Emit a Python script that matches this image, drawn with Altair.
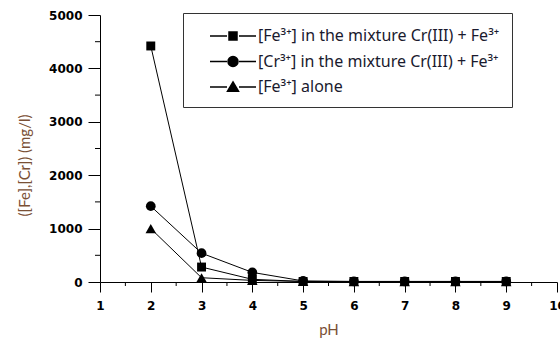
import altair as alt
import pandas as pd

ph = [2, 3, 4, 5, 6, 7, 8, 9]
fe_mix = [4420, 280, 50, 10, 10, 10, 10, 10]
cr_mix = [1420, 540, 180, 20, 10, 10, 10, 10]
fe_alone = [1000, 80, 30, 10, 5, 5, 5, 5]

names = [
    "[Fe³⁺] in the mixture Cr(III) + Fe³⁺",
    "[Cr³⁺] in the mixture Cr(III) + Fe³⁺",
    "[Fe³⁺]  alone",
]
series_values = [fe_mix, cr_mix, fe_alone]

x_major = [1, 2, 3, 4, 5, 6, 7, 8, 9, 10]
x_minor = [1.5, 2.5, 3.5, 4.5, 5.5, 6.5, 7.5, 8.5, 9.5]
y_major = [0, 1000, 2000, 3000, 4000, 5000]
y_minor = [500, 1500, 2500, 3500, 4500]

rows = []
for name, vals in zip(names, series_values):
    for p, v in zip(ph, vals):
        rows.append({"pH": p, "val": v, "series": name})
df = pd.DataFrame(rows)
df_xminor = pd.DataFrame({"pH": x_minor})
df_yminor = pd.DataFrame({"val": y_minor})

W, H = 457, 267
title_color = "#7a5035"
label_font = "DejaVu Sans"

xscale = alt.Scale(domain=[1, 10], nice=False, zero=False)
yscale = alt.Scale(domain=[0, 5000], nice=False)

x_axis = alt.Axis(
    orient="bottom", values=x_major, tickSize=10,
    tickColor="black", domainColor="black",
    labelFont=label_font, labelFontWeight="bold", labelFontSize=12, labelColor="black",
    labelPadding=8, labelFlush=False, labelOverlap=False, grid=False,
    title="pH", titleFont="Lato", titleFontSize=15, titleFontWeight="normal",
    titleColor=title_color, titleY=40, titleBaseline="top",
)
y_axis = alt.Axis(
    orient="left", values=y_major, format="d", tickSize=12,
    tickColor="black", domainColor="black",
    labelFont=label_font, labelFontWeight="bold", labelFontSize=12, labelColor="black",
    labelPadding=6, labelFlush=False, labelOverlap=False, grid=False,
    title="([Fe],[Cr]) (mg/l)", titleFont="Lato", titleFontSize=15, titleFontWeight="normal",
    titleColor=title_color, titleX=-68, titleY=150, titleAngle=-90,
)

X = alt.X("pH:Q", scale=xscale, axis=x_axis)
Y = alt.Y("val:Q", scale=yscale, axis=y_axis)

base = alt.Chart(df)

lines = base.mark_line(color="black", strokeWidth=1).encode(
    x=X, y=Y, detail="series:N",
)

xminor = alt.Chart(df_xminor).mark_rule(color="black", strokeWidth=1).encode(
    x=X, y=alt.value(H), y2=alt.value(H + 4),
)
yminor = alt.Chart(df_yminor).mark_rule(color="black", strokeWidth=1).encode(
    y=Y, x=alt.value(0), x2=alt.value(-5),
)

points = base.mark_point(filled=True, color="black", opacity=1).encode(
    x=X, y=Y,
    shape=alt.Shape("series:N", scale=alt.Scale(domain=names, range=["square", "circle", "triangle-up"]), legend=None),
    size=alt.Size("series:N", scale=alt.Scale(domain=names, range=[80, 110, 110]), legend=None),
)

legend_paths = [
    "M-2.3,0H-0.6M0.6,0H2.3M-0.4,-0.4H0.4V0.4H-0.4Z",
    "M-2.3,0H-0.6M0.6,0H2.3M-0.5,0A0.5,0.5,0,1,1,0.5,0A0.5,0.5,0,1,1,-0.5,0Z",
    "M-2.3,0H-0.6M0.6,0H2.3M0,-0.5L0.55,0.42L-0.55,0.42Z",
]

pad = "\u00a0" * 20

legend_layer = base.transform_filter("datum.pH > 100").mark_point(
    filled=True, color="black", strokeWidth=1, stroke="black", opacity=1
).encode(
    x=X, y=Y,
    shape=alt.Shape(
        "series:N",
        scale=alt.Scale(domain=names, range=legend_paths),
        legend=alt.Legend(
            title=None, orient="none", legendX=83, legendY=-2,
            strokeColor="#333333", fillColor="white", padding=12,
            symbolSize=400,
            rowPadding=6.5,
            symbolOffset=27, labelOffset=14,
            labelExpr="datum.label + '" + pad + "'",
            labelFont="Noto Sans", labelFontSize=16, labelColor="#1a1a2e",
            labelLimit=500,
        ),
    ),
)

chart = (
    alt.layer(lines, xminor, yminor, points, legend_layer)
    .resolve_scale(shape="independent", size="independent")
    .properties(
        width=W, height=H,
        autosize=alt.AutoSizeParams(type="none"),
        padding={"left": 100, "top": 15, "right": 3, "bottom": 60},
        background="white",
    )
    .configure_view(stroke=None)
)

chart.save("out.html", embed_options={"renderer": "svg", "actions": False})
